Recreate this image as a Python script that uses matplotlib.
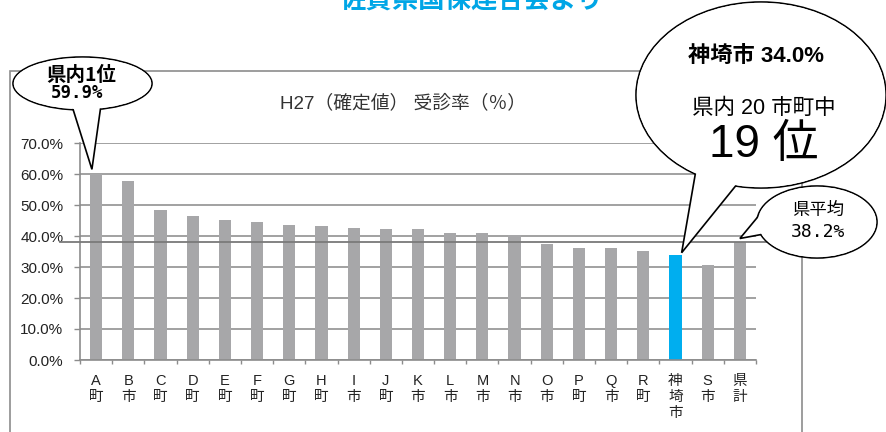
import numpy as np
import matplotlib
matplotlib.use("Agg")
import matplotlib.pyplot as plt
from matplotlib.patches import Ellipse, Polygon, Rectangle

plt.rcParams['font.family'] = ['Liberation Sans', 'Noto Sans CJK JP', 'DejaVu Sans']

# ---- data ----
categories = ["A町", "B市", "C町", "D町", "E町", "F町", "G町", "H町", "I市", "J町",
              "K市", "L市", "M市", "N市", "O市", "P町", "Q市", "R町", "神埼市", "S市", "県計"]
rates = [59.9, 57.8, 48.5, 46.6, 45.3, 44.6, 43.6, 43.2, 42.6, 42.4,
         42.2, 41.1, 41.0, 40.2, 37.3, 36.2, 36.0, 35.2, 34.0, 30.7, 38.2]
highlight = "神埼市"
total_label = "県計"
yticks = [0, 10, 20, 30, 40, 50, 60, 70]
chart_title = "H27（確定値） 受診率（％）"
top_title = "佐賀県国保連合会より"

W, H = 886, 432
fig = plt.figure(figsize=(W / 100, H / 100), dpi=100)
fig.patch.set_facecolor("white")

def fpx(x, y):
    return (x / W, 1 - y / H)

ax = fig.add_axes([80 / W, 1 - 360 / H, (756 - 80) / W, (360 - 143) / H])
ax.patch.set_visible(False)

x = np.arange(len(categories))
colors = ["#00aeef" if c == highlight else "#a7a7a9" for c in categories]
bar_w = 0.38
ax.bar(x, rates, width=bar_w, color=colors, zorder=2)

ax.set_xlim(-0.5, len(categories) - 0.5)
ax.set_ylim(0, 70)
ax.set_yticks(yticks)
ax.set_yticklabels([f"{v:.1f}%" for v in yticks], fontsize=11, color="#222222")
ax.yaxis.grid(True, color="#9a9a9a", linewidth=1.3)
ax.set_axisbelow(True)

ax.set_xticks(x)
ax.set_xticklabels(["\n".join(c) for c in categories], fontsize=10.5,
                    color="#222222", linespacing=1.2)
ax.set_xticks(np.arange(-0.5, len(categories), 1), minor=True)
ax.tick_params(axis="x", which="major", length=0, pad=10)
ax.tick_params(axis="x", which="minor", length=3, color="#8c8c8c", width=1)
ax.tick_params(axis="y", length=4, color="#8c8c8c", width=1, pad=8)

for s in ["top", "right"]:
    ax.spines[s].set_visible(False)
for s in ["left", "bottom"]:
    ax.spines[s].set_color("#8c8c8c")
    ax.spines[s].set_linewidth(1.2)

# prefecture average line
avg = rates[categories.index(total_label)]
ax.plot([-0.5 - 0.62, len(categories) - 0.5 + 0.34], [avg, avg],
        color="#7a7a7a", lw=1.3, clip_on=False, zorder=3)

# chart box
fig.add_artist(Rectangle(fpx(10, 520), 792 / W, (520 - 71) / H, transform=fig.transFigure,
                         fill=False, ec="#8c8c8c", lw=1.2, zorder=0.5))

# chart title
fig.text(*fpx(403, 103), chart_title, ha="center", va="center", fontsize=13.5,
         color="#333333")

# cut-off top title (cropped in the reference as well)
fig.text(*fpx(472, 9), top_title, ha="center", va="baseline", fontsize=19,
         fontweight="bold", color="#00a6e6", family=["Noto Sans CJK JP"])

def data_to_fig(xd, yd):
    d = ax.transData.transform((xd, yd))
    return tuple(fig.transFigure.inverted().transform(d))

def bubble(cx, cy, a, b, base1, base2, tip, z):
    kw = dict(transform=fig.transFigure)
    fig.add_artist(Ellipse(fpx(cx, cy), 2 * a / W, 2 * b / H, fc="white", ec="black",
                           lw=1.2, zorder=z, **kw))
    fig.add_artist(Polygon([fpx(*base1), tip, fpx(*base2)], closed=True, fc="white",
                           ec="black", lw=1.2, zorder=z + 0.1, joinstyle="miter", **kw))
    fig.add_artist(Ellipse(fpx(cx, cy), 2 * a / W - 1.6 / W, 2 * b / H - 1.6 / H,
                           fc="white", ec="none", zorder=z + 0.2, **kw))

i_first = int(np.argmax(rates[:-1]))
i_hl = categories.index(highlight)
i_tot = categories.index(total_label)

# left bubble: top rank
bubble(82.5, 83.5, 69.5, 26.5, (72, 106), (101, 105),
       data_to_fig(i_first - 0.13, rates[i_first] + 1.6), 5)
fig.text(*fpx(81, 75), "県内1位", ha="center", va="center", fontsize=14,
         fontweight="bold", family=["Noto Sans CJK JP"], zorder=10)
fig.text(*fpx(77, 93), f"{rates[i_first]:.1f}%", ha="center", va="center", fontsize=12.5,
         fontweight="bold", family=["DejaVu Sans Mono"], zorder=10)

# big bubble: highlighted city
bubble(761, 95, 125, 93, (696, 170), (738, 183),
       data_to_fig(i_hl + bar_w / 2, rates[i_hl] + 0.6), 6)
rank = sorted(rates[:-1], reverse=True).index(rates[i_hl]) + 1
fig.text(*fpx(756, 57), f"{highlight} {rates[i_hl]:.1f}%", ha="center", va="center",
         fontsize=16, fontweight="bold", zorder=10)
fig.text(*fpx(764, 108), f"県内 {len(categories) - 1} 市町中", ha="center", va="center",
         fontsize=15.5, zorder=10)
fig.text(*fpx(764, 145), f"{rank} 位", ha="center", va="center",
         fontsize=33, zorder=10)

# small bubble: prefecture average
bubble(817, 222, 60, 36, (761, 213), (764, 234),
       data_to_fig(i_tot, avg + 1.0), 7)
fig.text(*fpx(818, 210), "県平均", ha="center", va="center", fontsize=12.5,
         family=["Noto Sans CJK JP"], zorder=10)
fig.text(*fpx(818, 232), f"{avg:.1f}%", ha="center", va="center", fontsize=13,
         family=["DejaVu Sans Mono"], zorder=10)

fig.savefig("out.png", dpi=100)
